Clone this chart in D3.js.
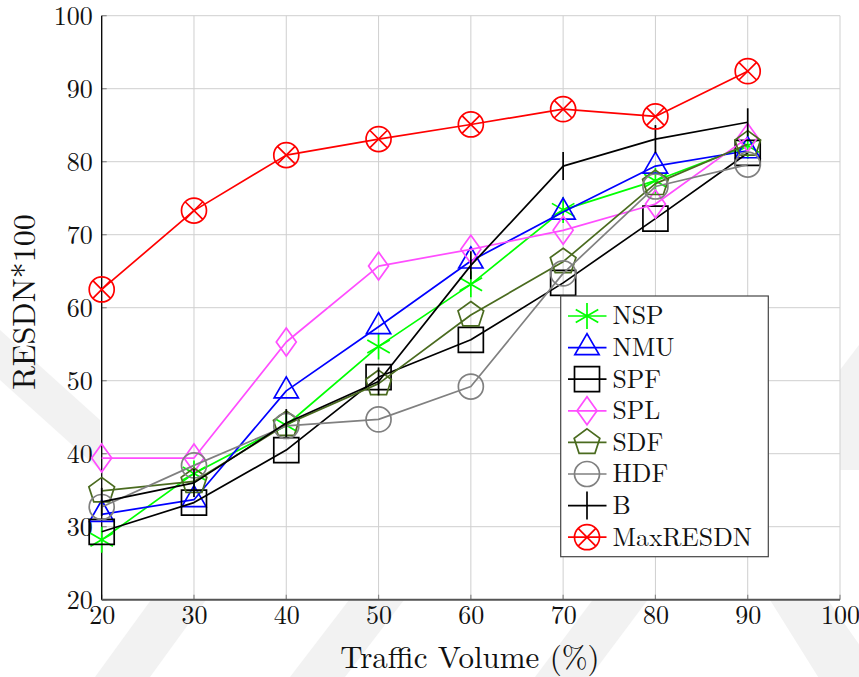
<!DOCTYPE html>
<html>
<head>
<meta charset="utf-8">
<script src="https://cdn.jsdelivr.net/npm/d3@7"></script>
<style>
  html, body { margin: 0; padding: 0; background: #fff; }
  svg { display: block; }
</style>
</head>
<body>
<svg id="chart" width="859" height="677"></svg>
<script>
// Traffic volume (%) on the x axis
const trafficVolume = [20, 30, 40, 50, 60, 70, 80, 90];

// RESDN*100 for each scheme
const nsp      = [28.2, 37.3, 43.9, 54.7, 63.2, 73.4, 77.4, 82.2];
const nmu      = [31.7, 33.7, 48.6, 57.4, 66.4, 73.1, 79.4, 81.5];
const spf      = [29.3, 33.3, 40.5, 50.5, 55.6, 63.4, 72.2, 81.2];
const spl      = [39.4, 39.4, 55.3, 65.7, 68.0, 70.6, 74.2, 83.3];
const sdf      = [34.9, 36.2, 44.0, 49.6, 59.0, 66.3, 77.0, 82.4];
const hdf      = [32.7, 38.4, 43.8, 44.7, 49.2, 64.7, 76.6, 79.6];
const b        = [33.4, 36.0, 44.2, 49.9, 65.8, 79.4, 83.1, 85.4];
const maxResdn = [62.5, 73.3, 80.9, 83.1, 85.1, 87.2, 86.2, 92.4];

const seriesNames = ["NSP", "NMU", "SPF", "SPL", "SDF", "HDF", "B", "MaxRESDN"];
const seriesValues = [nsp, nmu, spf, spl, sdf, hdf, b, maxResdn];
const seriesColors = ["#00ff00", "#0000ff", "#000000", "#ff4dff", "#4a6b1f", "#808080", "#000000", "#ff0000"];
const seriesMarks  = ["asterisk", "triangle", "square", "diamond", "pentagon", "circle", "bar", "otimes"];

const xTicks = [20, 30, 40, 50, 60, 70, 80, 90, 100];
const yTicks = [20, 30, 40, 50, 60, 70, 80, 90, 100];

const FONT = '"Latin Modern Roman", "Liberation Serif", serif';

const svg = d3.select("#chart").style("font-family", FONT);
const plotL = 101.7, plotR = 840, plotT = 15.7, plotB = 599.7;

const x = d3.scaleLinear().domain([20, 100]).range([plotL, plotR]);
const y = d3.scaleLinear().domain([20, 100]).range([plotB, plotT]);

// faint diagonal background pattern
const bg = svg.append("g").attr("fill", "#f2f2f2");
[
  [[95, 677], [150, 677], [235, 560], [180, 560]],
  [[290, 677], [345, 677], [450, 540], [395, 540]],
  [[535, 677], [590, 677], [700, 530], [645, 530]],
  [[745, 560], [800, 560], [870, 660], [870, 760]],
  [[0, 330], [0, 380], [100, 470], [100, 420]],
  [[840, 370], [859, 345], [859, 470], [840, 470]]
].forEach(p => bg.append("polygon").attr("points", p.map(q => q.join(",")).join(" ")));

// plot background
svg.append("rect").attr("x", plotL).attr("y", plotT)
  .attr("width", plotR - plotL).attr("height", plotB - plotT).attr("fill", "#fff");

// grid
const grid = svg.append("g").attr("stroke", "#cfcfcf").attr("stroke-width", 1);
grid.selectAll("line.v").data(xTicks).join("line").attr("class", "v")
  .attr("x1", d => x(d)).attr("x2", d => x(d)).attr("y1", plotT).attr("y2", plotB);
grid.selectAll("line.h").data(yTicks).join("line").attr("class", "h")
  .attr("y1", d => y(d)).attr("y2", d => y(d)).attr("x1", plotL).attr("x2", plotR);

// inner ticks
const tk = svg.append("g").attr("stroke", "#8a8a8a").attr("stroke-width", 1.2);
tk.selectAll("line.yt").data(yTicks).join("line").attr("class", "yt")
  .attr("x1", plotL).attr("x2", plotL + 5).attr("y1", d => y(d)).attr("y2", d => y(d));
tk.selectAll("line.xt").data(xTicks).join("line").attr("class", "xt")
  .attr("x1", d => x(d)).attr("x2", d => x(d)).attr("y1", plotB).attr("y2", plotB - 5);

// axis lines
svg.append("line").attr("x1", plotL).attr("x2", plotL).attr("y1", plotT).attr("y2", plotB)
  .attr("stroke", "#000").attr("stroke-width", 1.3);
svg.append("line").attr("x1", plotL).attr("x2", plotR).attr("y1", plotB).attr("y2", plotB)
  .attr("stroke", "#555").attr("stroke-width", 2);

// tick labels via d3 axes
const xAxis = svg.append("g").attr("transform", `translate(0,${plotB})`)
  .call(d3.axisBottom(x).tickValues(xTicks).tickSize(0).tickPadding(6));
const yAxis = svg.append("g").attr("transform", `translate(${plotL},0)`)
  .call(d3.axisLeft(y).tickValues(yTicks).tickSize(0).tickPadding(9));
[xAxis, yAxis].forEach(a => {
  a.attr("font-family", null).attr("font-size", null);
  a.select(".domain").remove();
  a.selectAll("text").style("font-family", FONT).style("font-size", "26px").attr("fill", "#111");
});

// axis titles
svg.append("text").attr("x", 470).attr("y", 668).attr("text-anchor", "middle")
  .style("font-family", FONT).style("font-size", "31px").attr("fill", "#111").text("Traffic Volume (%)");
svg.append("text").attr("transform", "translate(35,302) rotate(-90)").attr("text-anchor", "middle")
  .style("font-family", FONT).style("font-size", "32px").attr("fill", "#111").text("RESDN*100");

// marker path builders
function markPath(type, cx, cy) {
  const p = d3.path();
  if (type === "circle") {
    p.moveTo(cx + 12.5, cy); p.arc(cx, cy, 12.5, 0, 2 * Math.PI);
  } else if (type === "otimes") {
    p.moveTo(cx + 12.5, cy); p.arc(cx, cy, 12.5, 0, 2 * Math.PI);
    const k = 12.5 * Math.SQRT1_2;
    p.moveTo(cx - k, cy - k); p.lineTo(cx + k, cy + k);
    p.moveTo(cx - k, cy + k); p.lineTo(cx + k, cy - k);
  } else if (type === "square") {
    const s = 12.5;
    p.rect(cx - s, cy - s, 2 * s, 2 * s);
  } else if (type === "diamond") {
    p.moveTo(cx, cy - 14); p.lineTo(cx + 10, cy); p.lineTo(cx, cy + 14); p.lineTo(cx - 10, cy); p.closePath();
  } else if (type === "triangle") {
    const r = 14;
    p.moveTo(cx, cy - r);
    p.lineTo(cx + r * Math.cos(Math.PI / 6), cy + r / 2);
    p.lineTo(cx - r * Math.cos(Math.PI / 6), cy + r / 2);
    p.closePath();
  } else if (type === "pentagon") {
    const r = 13.5;
    for (let i = 0; i < 5; i++) {
      const a = -Math.PI / 2 + i * 2 * Math.PI / 5;
      const px = cx + r * Math.cos(a), py = cy + r * Math.sin(a);
      if (i === 0) p.moveTo(px, py); else p.lineTo(px, py);
    }
    p.closePath();
  } else if (type === "asterisk") {
    const r = 13;
    [90, 30, -30].forEach(deg => {
      const a = deg * Math.PI / 180;
      p.moveTo(cx - r * Math.cos(a), cy - r * Math.sin(a));
      p.lineTo(cx + r * Math.cos(a), cy + r * Math.sin(a));
    });
  } else if (type === "bar") {
    p.moveTo(cx, cy - 14); p.lineTo(cx, cy + 14);
  }
  return p.toString();
}

const line = d3.line().x((d, i) => x(trafficVolume[i])).y(d => y(d));

// series: line then markers
seriesValues.forEach((vals, si) => {
  const g = svg.append("g").attr("class", "series");
  g.append("path").attr("d", line(vals)).attr("fill", "none")
    .attr("stroke", seriesColors[si]).attr("stroke-width", 1.7).attr("stroke-linejoin", "round");
  g.selectAll("path.mk").data(vals).join("path").attr("class", "mk")
    .attr("d", (d, i) => markPath(seriesMarks[si], x(trafficVolume[i]), y(d)))
    .attr("fill", "none").attr("stroke", seriesColors[si]).attr("stroke-width", 1.7);
});

// legend
const lg = svg.append("g");
const lgX = 560.7, lgY = 296, lgW = 207.6, lgH = 260.7, rowH = 31.6, row0 = 316;
lg.append("rect").attr("x", lgX).attr("y", lgY).attr("width", lgW).attr("height", lgH)
  .attr("fill", "#fff").attr("stroke", "#444").attr("stroke-width", 1.2);
seriesNames.forEach((name, si) => {
  const cy = row0 + si * rowH;
  lg.append("line").attr("x1", 568).attr("x2", 606.5).attr("y1", cy).attr("y2", cy)
    .attr("stroke", seriesColors[si]).attr("stroke-width", 1.7);
  lg.append("path").attr("d", markPath(seriesMarks[si], 587, cy))
    .attr("fill", "none").attr("stroke", seriesColors[si]).attr("stroke-width", 1.7);
  lg.append("text").attr("x", 612.5).attr("y", cy).attr("dy", "0.33em")
    .style("font-family", FONT).style("font-size", "25.7px").attr("fill", "#111").text(name);
});
</script>
</body>
</html>
